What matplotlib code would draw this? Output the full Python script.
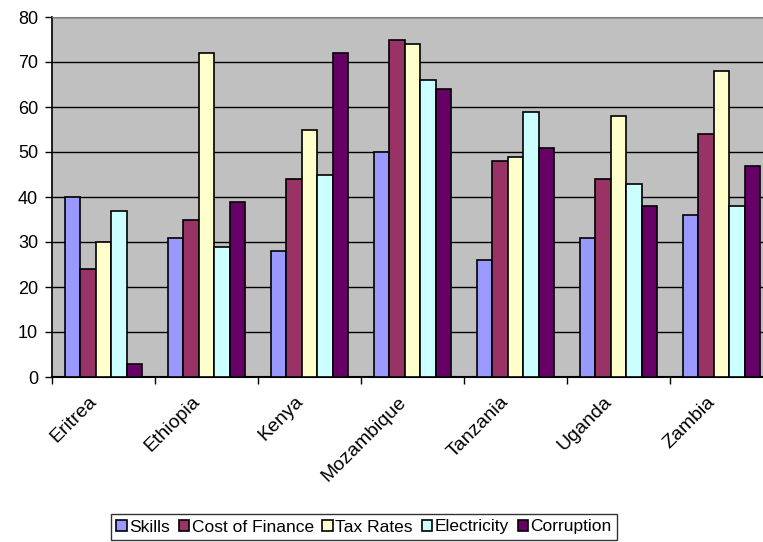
import matplotlib

matplotlib.use("Agg")
import matplotlib.pyplot as plt
import matplotlib.transforms as mtransforms
import numpy as np

plt.rcParams["font.family"] = ["Liberation Sans", "DejaVu Sans"]

countries = ["Eritrea", "Ethiopia", "Kenya", "Mozambique", "Tanzania", "Uganda", "Zambia"]
series = ["Skills", "Cost of Finance", "Tax Rates", "Electricity", "Corruption"]
skills = [40, 31, 28, 50, 26, 31, 36]
cost_of_finance = [24, 35, 44, 75, 48, 44, 54]
tax_rates = [30, 72, 55, 74, 49, 58, 68]
electricity = [37, 29, 45, 66, 59, 43, 38]
corruption = [3, 39, 72, 64, 51, 38, 47]
colors = ["#9999FF", "#993366", "#FFFFCC", "#CCFFFF", "#660066"]

values = [skills, cost_of_finance, tax_rates, electricity, corruption]

fig = plt.figure(figsize=(7.63, 5.42), dpi=100)
ax = fig.add_axes([52 / 763, 165 / 542, 721 / 763, 360 / 542])
ax.set_facecolor("#C0C0C0")

x = np.arange(len(countries))
width = 0.15
for i, (name, vals, col) in enumerate(zip(series, values, colors)):
    ax.bar(x + (i - 2) * width, vals, width, label=name, color=col,
           edgecolor="black", linewidth=1.2, zorder=3)

ax.set_xlim(-0.5, len(countries) - 0.5)
ax.set_ylim(0, 80)
ax.set_yticks(np.arange(0, 81, 10))
ax.yaxis.grid(True, color="black", linewidth=1, zorder=0)
ax.tick_params(axis="y", labelsize=13, length=5, width=1, direction="out", pad=5)

# labels at the centres, tick marks between the groups
ax.set_xticks(x)
ax.set_xticklabels(countries, rotation=45, ha="right", va="center",
                   rotation_mode="anchor", fontsize=14)
ax.tick_params(axis="x", which="major", length=0, pad=16)
shift = mtransforms.ScaledTranslation(-9 / 100, 0, fig.dpi_scale_trans)
for lbl in ax.get_xticklabels():
    lbl.set_transform(lbl.get_transform() + shift)
ax.set_xticks(np.arange(-0.5, len(countries), 1), minor=True)
ax.tick_params(axis="x", which="minor", length=5, width=1, direction="out")

ax.spines["top"].set_color("#808080")
ax.spines["right"].set_color("#808080")
ax.spines["left"].set_linewidth(1.2)
ax.spines["bottom"].set_linewidth(1.5)

leg = fig.legend(loc="center", bbox_to_anchor=(364 / 763, 1 - 527 / 542), ncol=5,
                 fontsize=12.5, frameon=True, fancybox=False, handlelength=0.6,
                 handleheight=0.6, handletextpad=0.15, columnspacing=0.5,
                 borderpad=0.3, borderaxespad=0)
leg.get_frame().set_edgecolor("black")
leg.get_frame().set_linewidth(1)

fig.savefig("out.png", dpi=100)
